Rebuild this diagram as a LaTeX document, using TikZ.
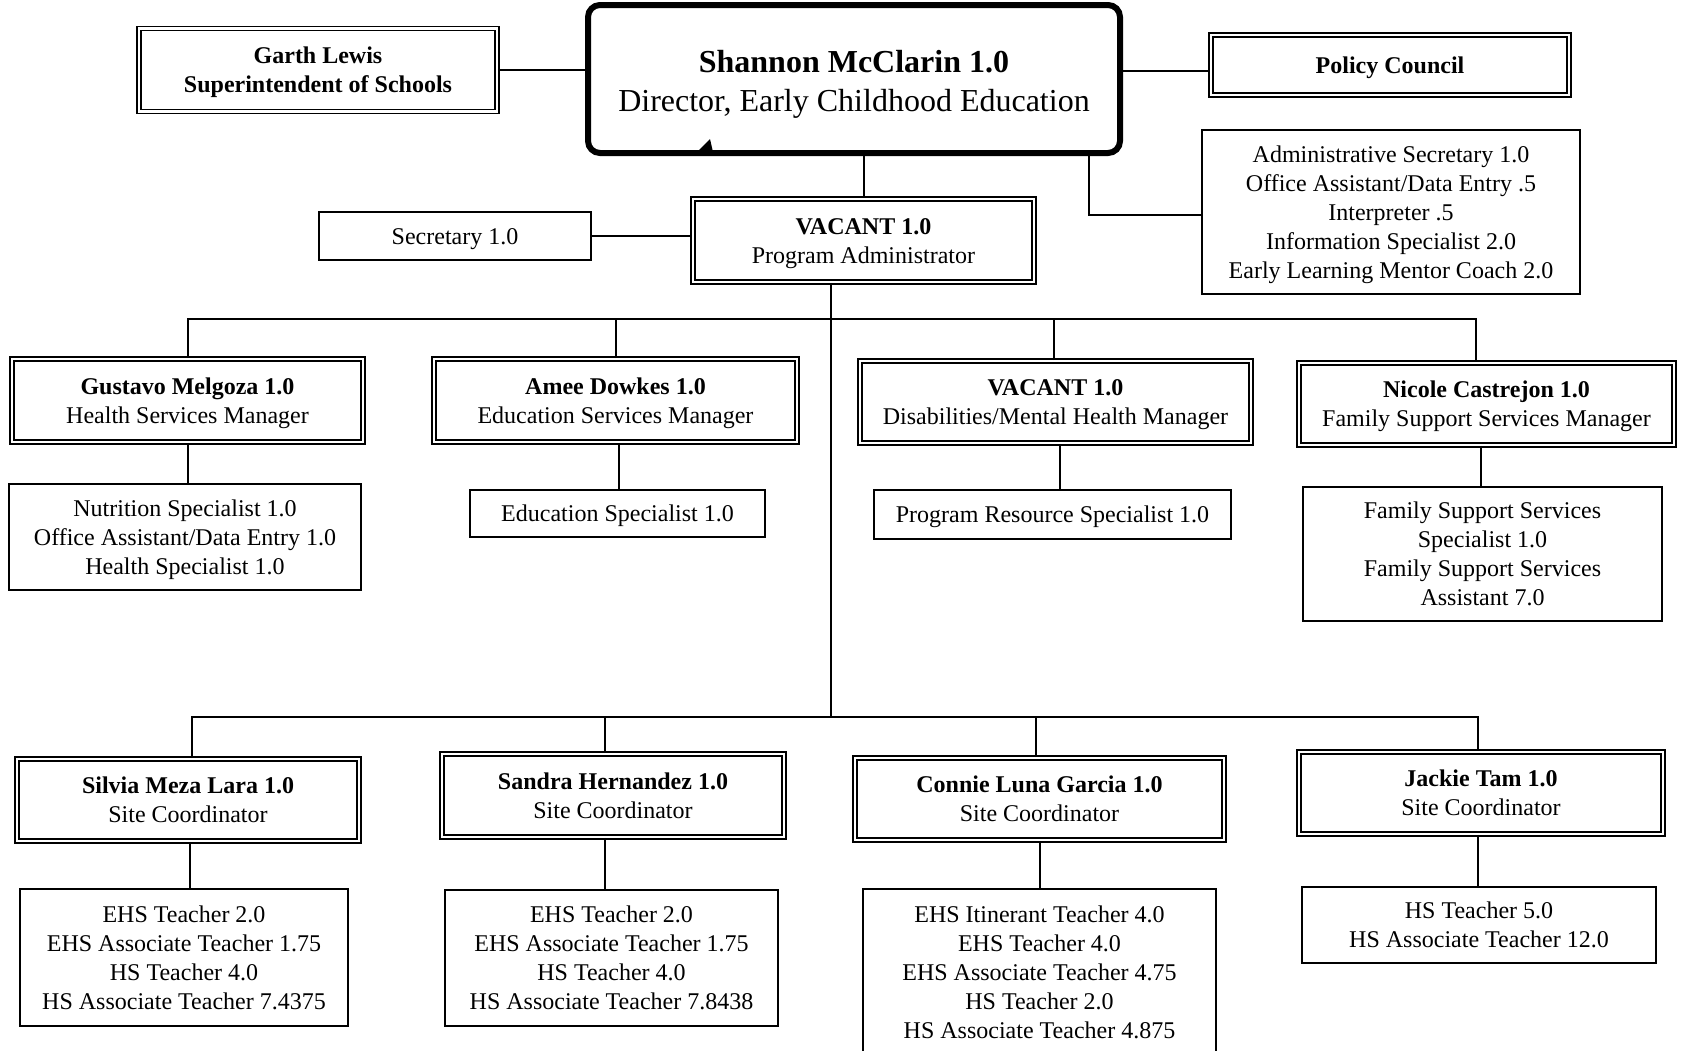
\documentclass[tikz,border=0pt]{standalone}
\usepackage{fontspec}
\setmainfont{Liberation Serif}
\usepackage{tikz}
\newcommand{\wl}{\rule[-0.216em]{0pt}{1.107em}}

\begin{document}
\begin{tikzpicture}[x=0.5pt, y=-0.5pt,
    every node/.style={align=center, inner sep=0pt, font=\fontsize{12}{14.5}\selectfont,
      execute at begin node=\wl, execute at end node=\wl},
    plainbox/.style={rectangle, draw, line width=1.1pt},
    dblbox/.style={rectangle, draw, line width=0.8pt, double, double distance=1.1pt},
    headbox/.style={rectangle, draw, line width=3pt, rounded corners=6pt, font=\fontsize{16}{19.3}\selectfont},
    link/.style={line width=1pt}]
  \useasboundingbox (0,0) rectangle (1685,1050);
  \node[headbox, minimum width=266pt, minimum height=74pt] (shannon) at (854,79) {\rule{0pt}{16.6pt}\textbf{Shannon McClarin 1.0}\\Director, Early Childhood Education};
  \node[dblbox, minimum width=179pt, minimum height=41.5pt] (garth) at (318,70) {\wl\textbf{Garth Lewis}\\\textbf{Superintendent of Schools}};
  \node[dblbox, minimum width=179pt, minimum height=30pt] (policy) at (1390,65) {\textbf{Policy Council}};
  \node[plainbox, minimum width=189pt, minimum height=82pt] (office) at (1391,212) {\wl Administrative Secretary 1.0\\Office Assistant/Data Entry .5\\Interpreter .5\\Information Specialist 2.0\\Early Learning Mentor Coach 2.0};
  \node[dblbox, minimum width=170.5pt, minimum height=41.5pt] (progadmin) at (863.5,240.5) {\wl\textbf{VACANT 1.0}\\Program Administrator};
  \node[plainbox, minimum width=136pt, minimum height=24pt] (secretary) at (455,236) {Secretary 1.0};

  \node[dblbox, minimum width=175.5pt, minimum height=41.5pt] (health) at (187.5,400.5) {\wl\textbf{Gustavo Melgoza 1.0}\\Health Services Manager};
  \node[dblbox, minimum width=181.5pt, minimum height=41.5pt] (education) at (615.5,400.5) {\wl\textbf{Amee Dowkes 1.0}\\Education Services Manager};
  \node[dblbox, minimum width=195.5pt, minimum height=41pt] (disability) at (1055.5,402) {\wl\textbf{VACANT 1.0}\\Disabilities/Mental Health Manager};
  \node[dblbox, minimum width=187.5pt, minimum height=41pt] (family) at (1486.5,404) {\wl\textbf{Nicole Castrejon 1.0}\\Family Support Services Manager};

  \node[plainbox, minimum width=176pt, minimum height=53pt] (healthstaff) at (185,537) {\wl Nutrition Specialist 1.0\\Office Assistant/Data Entry 1.0\\Health Specialist 1.0};
  \node[plainbox, minimum width=147.5pt, minimum height=23.5pt] (edustaff) at (617.5,513.5) {Education Specialist 1.0};
  \node[plainbox, minimum width=178.5pt, minimum height=24.5pt] (resstaff) at (1052.5,514.5) {Program Resource Specialist 1.0};
  \node[plainbox, minimum width=179.5pt, minimum height=67pt] (famstaff) at (1482.5,554) {\wl Family Support Services\\Specialist 1.0\\Family Support Services\\Assistant 7.0};

  \node[dblbox, minimum width=171pt, minimum height=41pt] (site1) at (188,800) {\wl\textbf{Silvia Meza Lara 1.0}\\Site Coordinator};
  \node[dblbox, minimum width=171pt, minimum height=41.5pt] (site2) at (613,795.5) {\wl\textbf{Sandra Hernandez 1.0}\\Site Coordinator};
  \node[dblbox, minimum width=184.5pt, minimum height=41pt] (site3) at (1039.5,799) {\wl\textbf{Connie Luna Garcia 1.0}\\Site Coordinator};
  \node[dblbox, minimum width=182pt, minimum height=41pt] (site4) at (1481,793) {\wl\textbf{Jackie Tam 1.0}\\Site Coordinator};

  \node[plainbox, minimum width=164pt, minimum height=68.5pt] (teach1) at (184,957.5) {\wl EHS Teacher 2.0\\EHS Associate Teacher 1.75\\HS Teacher 4.0\\HS Associate Teacher 7.4375};
  \node[plainbox, minimum width=166.5pt, minimum height=68pt] (teach2) at (611.5,958) {\wl EHS Teacher 2.0\\EHS Associate Teacher 1.75\\HS Teacher 4.0\\HS Associate Teacher 7.8438};
  \node[plainbox, minimum width=176.5pt, minimum height=83.5pt] (teach3) at (1039.5,972.5) {\wl EHS Itinerant Teacher 4.0\\EHS Teacher 4.0\\EHS Associate Teacher 4.75\\HS Teacher 2.0\\HS Associate Teacher 4.875};
  \node[plainbox, minimum width=177pt, minimum height=38pt] (teach4) at (1479,925) {\wl HS Teacher 5.0\\HS Associate Teacher 12.0};

  \coordinate (busA) at (831,319);
  \coordinate (busB) at (831,717);

  \draw[link] (garth.east) -- (garth.east -| shannon.west);
  \draw[link] (shannon.east |- policy.west) ++(0,6) -- ([yshift=-3pt]policy.west);
  \draw[link] ([xshift=-17pt]shannon.south east) |- ([yshift=-1.5pt]office.west);
  \draw[link] (shannon.south -| progadmin.north) -- (progadmin.north);
  \draw[link] (secretary.east) -- (secretary.east -| progadmin.west);
  \fill ([shift={(56pt,2pt)}]shannon.south west) -- ++(8pt,0) -- ++(-1.5pt,6.5pt) -- cycle;

  \draw[link] (progadmin.south -| busB) -- (busB);
  \draw[link] (health.north) |- (busA) -| ([xshift=-5.5pt]family.north);
  \draw[link] (education.north) -- (education.north |- busA);
  \draw[link] ([xshift=-1pt]disability.north) coordinate (d1) -- (d1 |- busA);
  \draw[link] (health.south) -- (health.south |- healthstaff.north);
  \draw[link] ([xshift=1.5pt]education.south) coordinate (e2) -- (e2 |- edustaff.north);
  \draw[link] ([xshift=2pt]disability.south) coordinate (d2) -- (d2 |- resstaff.north);
  \draw[link] ([xshift=-3pt]family.south) coordinate (f2) -- (f2 |- famstaff.north);

  \draw[link] ([xshift=2pt]site1.north) |- (busB) -| ([xshift=-1.5pt]site4.north);
  \draw[link] ([xshift=-4pt]site2.north) coordinate (s2) -- (s2 |- busB);
  \draw[link] ([xshift=-2pt]site3.north) coordinate (s3) -- (s3 |- busB);
  \draw[link] ([xshift=1pt]site1.south) coordinate (t1) -- (t1 |- teach1.north);
  \draw[link] ([xshift=-4pt]site2.south) coordinate (t2) -- (t2 |- teach2.north);
  \draw[link] (site3.south) -- (site3.south |- teach3.north);
  \draw[link] ([xshift=-1.5pt]site4.south) coordinate (t4) -- (t4 |- teach4.north);
\end{tikzpicture}
\end{document}
